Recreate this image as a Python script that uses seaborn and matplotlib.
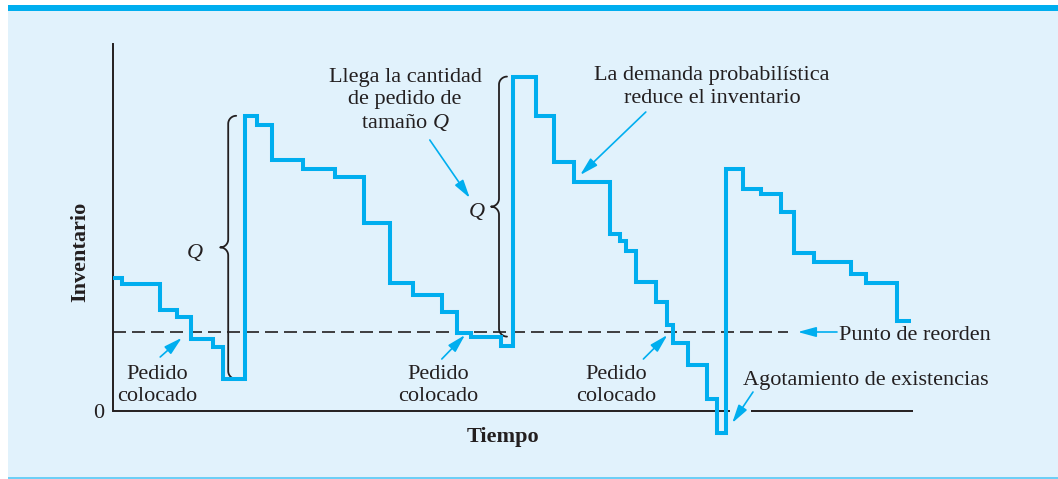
import numpy as np
import seaborn as sns
import matplotlib
matplotlib.use("Agg")
import matplotlib.pyplot as plt
from matplotlib.patches import Rectangle

# datos (tiempo 0-100, inventario en unidades arbitrarias)
tiempo = [0.0, 1.1, 5.9, 8.0, 9.8, 12.5, 13.8, 16.5, 18.0, 19.9, 23.8, 27.7, 31.4, 34.6,
          37.5, 41.1, 43.0, 44.8, 48.5, 50.0, 52.9, 55.1, 57.6, 62.1, 63.4, 64.1, 65.4,
          67.9, 69.3, 70.0, 71.9, 74.3, 75.5, 76.6, 78.7, 81.0, 83.5, 85.1, 87.6, 92.2,
          94.1, 98.0, 99.8]
inventario = [33.2, 31.7, 25.2, 23.4, 17.9, 15.9, 8.0, 73.8, 71.5, 62.8, 60.4, 58.6, 47.1,
              32.1, 29.0, 24.7, 19.5, 18.6, 16.2, 83.6, 73.8, 62.3, 57.3, 44.2, 42.5, 40.1,
              32.2, 27.2, 21.4, 17.0, 11.4, 2.9, -5.6, 60.4, 55.4, 54.2, 49.8, 39.4, 37.3,
              34.2, 31.9, 22.6, 22.6]
punto_reorden = 19.75

# etiquetas
etiqueta_pedido = "Pedido\ncolocado"
pedidos_texto = [5.5, 40.6, 62.9]
pedidos_flecha = [(5.9, 13.5, 8.6, 18.3), (41.1, 13.0, 44.0, 19.0), (66.3, 13.0, 69.3, 19.0)]

AZUL = "#00AEEF"
FONDO = "#E1F2FC"
NEGRO = "#231F20"

sns.set_style("white")
plt.rcParams["font.family"] = ["Liberation Serif", "DejaVu Serif"]
plt.rcParams["mathtext.fontset"] = "custom"
plt.rcParams["mathtext.rm"] = "Liberation Serif"
plt.rcParams["mathtext.it"] = "Liberation Serif:italic"
plt.rcParams["text.color"] = NEGRO

W, H = 1058, 479
fig = plt.figure(figsize=(W / 100, H / 100), dpi=100)
fig.patch.set_facecolor("white")


def rect_px(x0, y0, x1, y1, color):
    fig.add_artist(Rectangle((x0 / W, 1 - y1 / H), (x1 - x0) / W, (y1 - y0) / H,
                             transform=fig.transFigure, color=color, zorder=0, lw=0))


rect_px(8, 11, W, 477, FONDO)
rect_px(8, 5, W, 11, AZUL)
rect_px(8, 477, W, H, "#6DCFF6")

# eje: 8 px por unidad de tiempo, 4 px por unidad de inventario
ytop = (411 - 44) / 4
ybot = (411 - 445) / 4
ax = fig.add_axes([113 / W, (H - 445) / H, 800 / W, 401 / H])
ax.set_facecolor("none")
ax.set_xlim(0, 100)
ax.set_ylim(ybot, ytop)

sns.lineplot(x=tiempo, y=inventario, drawstyle="steps-post", color=AZUL, linewidth=2.9,
             estimator=None, sort=False, ax=ax, zorder=5,
             solid_joinstyle="miter", solid_capstyle="butt")

ax.hlines(punto_reorden, 0, 84.4, colors=NEGRO, linewidth=1.2,
          linestyles=[(0, (7.8, 3.6))], zorder=2)

# ejes
for s in ["top", "right", "bottom"]:
    ax.spines[s].set_visible(False)
ax.spines["left"].set_bounds(0, ytop)
ax.spines["left"].set_linewidth(1.4)
ax.spines["left"].set_color(NEGRO)
gap = (77.1, 79.8)
ax.hlines([0, 0], [0, gap[1]], [gap[0], 100], colors=NEGRO, linewidth=1.4, zorder=3)

ax.set_xticks([])
ax.set_yticks([0])
ax.set_yticklabels(["0"])
ax.tick_params(axis="y", length=0, pad=6, labelsize=16, labelcolor=NEGRO)

ax.text(48.75, -6.5, "Tiempo", fontsize=16, fontweight="bold", ha="center", va="center",
        clip_on=False)
ax.text(-4.1, 39.75, "Inventario", fontsize=16, fontweight="bold", ha="center", va="center",
        rotation=90, clip_on=False)


def flecha(x0, y0, x1, y1):
    ax.annotate("", xy=(x1, y1), xytext=(x0, y0),
                arrowprops=dict(arrowstyle="-|>,head_length=1.1,head_width=0.3",
                                color=AZUL, lw=1.2, shrinkA=0, shrinkB=0,
                                mutation_scale=10), zorder=6)


def llave(xv, y0, y1, w=1.0, h=2.0):
    ym = (y0 + y1) / 2
    xs, ys = [], []
    # curva inferior
    a = np.linspace(1.5 * np.pi, np.pi, 20)
    xs += list(xv + w + w * np.cos(a)); ys += list(y0 + h + h * np.sin(a))
    # punta
    a = np.linspace(0, np.pi / 2, 20)
    xs += list(xv - w + w * np.cos(a)); ys += list(ym - h + h * np.sin(a))
    a = np.linspace(-np.pi / 2, 0, 20)
    xs += list(xv - w + w * np.cos(a)); ys += list(ym + h + h * np.sin(a))
    # curva superior
    a = np.linspace(np.pi, np.pi / 2, 20)
    xs += list(xv + w + w * np.cos(a)); ys += list(y1 - h + h * np.sin(a))
    ax.plot(xs, ys, color=NEGRO, lw=1.3, zorder=3)


llave(14.4, inventario[6], inventario[7])
llave(48.25, inventario[17], inventario[19])
ax.text(10.25, 39.3, "Q", fontsize=16, fontstyle="italic", ha="center", va="center")
ax.text(45.5, 49.5, "Q", fontsize=16, fontstyle="italic", ha="center", va="center")

for xt, (x0, y0, x1, y1) in zip(pedidos_texto, pedidos_flecha):
    ax.text(xt, 6.4, etiqueta_pedido, fontsize=16, ha="center", va="center", linespacing=1.22)
    flecha(x0, y0, x1, y1)

ax.text(36.5, 77.6, "Llega la cantidad\nde pedido de\ntamaño $Q$", fontsize=16,
        ha="center", va="center", linespacing=1.22, clip_on=False)
flecha(39.6, 67.75, 44.6, 53.25)

ax.text(74.9, 81.0, "La demanda probabilística\nreduce el inventario", fontsize=16,
        ha="center", va="center", linespacing=1.22, clip_on=False)
flecha(66.6, 74.75, 58.4, 59.0)

ax.text(90.75, 19.0, "Punto de reorden", fontsize=16, ha="left", va="center", clip_on=False)
flecha(90.5, punto_reorden, 85.6, punto_reorden)

ax.text(78.75, 7.5, "Agotamiento de existencias", fontsize=16, ha="left", va="center",
        clip_on=False)
flecha(80.0, 4.75, 77.4, -3.0)

fig.savefig("out.png", dpi=100)
